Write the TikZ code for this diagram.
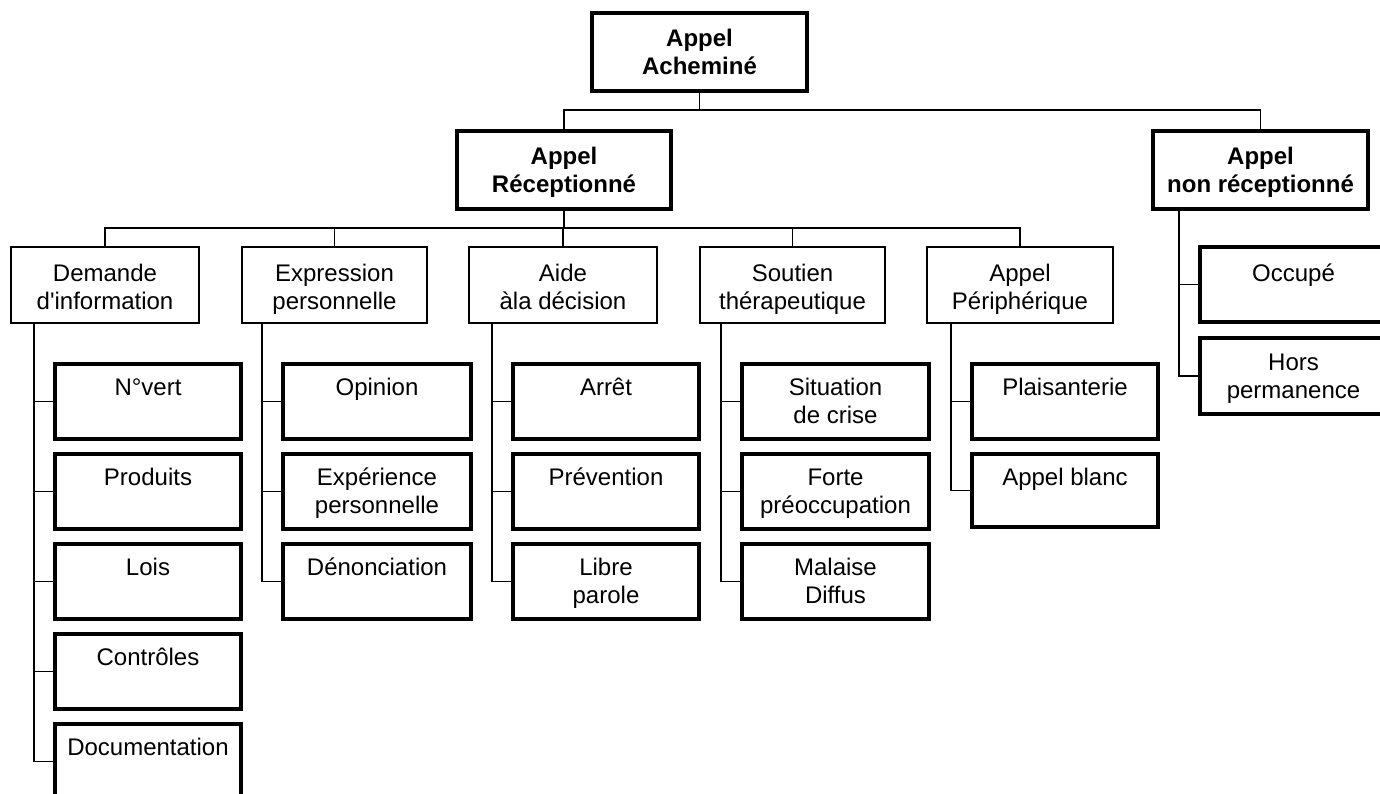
\documentclass[tikz,border=0pt]{standalone}
\usepackage{fontspec}
\setmainfont{Liberation Sans}
\newcommand{\bt}[4]{\parbox[c][#1pt][t]{#2pt}{\centering\rule{0pt}{#3pt}#4\par}}
\begin{document}
\begin{tikzpicture}[x=1pt,y=-1pt,
  basebox/.style={draw, inner sep=0pt, outer sep=0pt, font=\fontsize{24}{28}\selectfont},
  topbox/.style={basebox, line width=3.3pt, font=\fontsize{24}{28}\selectfont\bfseries},
  midbox/.style={basebox, line width=2.3pt},
  leafbox/.style={basebox, line width=3.1pt},
  conn/.style={line width=1.3pt}]
\useasboundingbox (0,0) rectangle (1380,794);
\clip (0,0) rectangle (1380,794);
\fill[white] (0,0) rectangle (1380,794);

% level 0 and 1
\node[topbox] (a0) at (699.5,52) {\bt{78}{215}{34}{Appel\\Acheminé}};
\node[topbox] (a1) at (564,170) {\bt{78}{214}{34}{Appel\\Réceptionné}};
\node[topbox] (a2) at (1260.5,170) {\bt{78}{215}{34}{Appel\\non réceptionné}};

% level 2
\node[midbox] (d) at (105,285) {\bt{76}{188}{34}{Demande\\d\textquotesingle information}};
\node[midbox] (e) at (334.5,285) {\bt{76}{185}{34}{Expression\\personnelle}};
\node[midbox] (ai) at (563,285) {\bt{76}{188}{34}{Aide\\àla décision}};
\node[midbox] (s) at (792.5,285) {\bt{76}{185}{34}{Soutien\\thérapeutique}};
\node[midbox] (p) at (1020,285) {\bt{76}{186}{34}{Appel\\Périphérique}};

% leaves: Demande
\node[leafbox] (d1) at (148,401.5) {\bt{75}{186}{31}{N°vert}};
\node[leafbox] (d2) at (148,491.5) {\bt{75}{186}{31}{Produits}};
\node[leafbox] (d3) at (148,581.5) {\bt{75}{186}{31}{Lois}};
\node[leafbox] (d4) at (148,671.5) {\bt{75}{186}{31}{Contrôles}};
\node[leafbox] (d5) at (148,761.5) {\bt{75}{186}{31}{Documentation}};
% Expression
\node[leafbox] (e1) at (377,401.5) {\bt{75}{188}{31}{Opinion}};
\node[leafbox] (e2) at (377,491.5) {\bt{75}{188}{31}{Expérience\\personnelle}};
\node[leafbox] (e3) at (377,581.5) {\bt{75}{188}{31}{Dénonciation}};
% Aide
\node[leafbox] (ai1) at (606,401.5) {\bt{75}{186}{31}{Arrêt}};
\node[leafbox] (ai2) at (606,491.5) {\bt{75}{186}{31}{Prévention}};
\node[leafbox] (ai3) at (606,581.5) {\bt{75}{186}{31}{Libre\\parole}};
% Soutien
\node[leafbox] (s1) at (835.5,401.5) {\bt{75}{187}{31}{Situation\\de crise}};
\node[leafbox] (s2) at (835.5,491.5) {\bt{75}{187}{31}{Forte\\préoccupation}};
\node[leafbox] (s3) at (835.5,581.5) {\bt{75}{187}{31}{Malaise\\Diffus}};
% Peripherique
\node[leafbox] (p1) at (1065,401.5) {\bt{75}{186}{31}{Plaisanterie}};
\node[leafbox] (p2) at (1065,490.5) {\bt{73}{186}{31}{Appel blanc}};
% non receptionne
\node[leafbox] (n1) at (1293.5,284.5) {\bt{75}{187}{34}{Occupé}};
\node[leafbox] (n2) at (1293.5,376) {\bt{76}{187}{32}{Hors\\permanence}};

% buses
\coordinate (bus0) at (0,110);
\coordinate (bus1) at (0,228);
\draw[conn] (a0.south) -- (a0.south |- bus0);
\draw[conn] (a1.north) |- (bus0 -| a2.north) -- (a2.north);
\draw[conn] (a1.south) -- (a1.south |- bus1);
\draw[conn] (d.north) |- (bus1 -| p.north) -- (p.north);
\draw[conn] (e.north) -- (e.north |- bus1);
\draw[conn] (ai.north) -- (ai.north |- bus1);
\draw[conn] (s.north) -- (s.north |- bus1);

% trunks
\coordinate (td) at ([xshift=-21pt]d1.west |- d.south);
\draw[conn] (td) |- (d5.west);
\foreach \c in {d1,d2,d3,d4} \draw[conn] (td |- \c.west) -- (\c.west);

\coordinate (te) at ([xshift=-21pt]e1.west |- e.south);
\draw[conn] (te) |- (e3.west);
\foreach \c in {e1,e2} \draw[conn] (te |- \c.west) -- (\c.west);

\coordinate (tai) at ([xshift=-21pt]ai1.west |- ai.south);
\draw[conn] (tai) |- (ai3.west);
\foreach \c in {ai1,ai2} \draw[conn] (tai |- \c.west) -- (\c.west);

\coordinate (ts) at ([xshift=-21pt]s1.west |- s.south);
\draw[conn] (ts) |- (s3.west);
\foreach \c in {s1,s2} \draw[conn] (ts |- \c.west) -- (\c.west);

\coordinate (tp) at ([xshift=-21pt]p1.west |- p.south);
\draw[conn] (tp) |- (p2.west);
\draw[conn] (tp |- p1.west) -- (p1.west);

\coordinate (tn) at ([xshift=-21pt]n1.west |- a2.south);
\draw[conn] (tn) |- (n2.west);
\draw[conn] (tn |- n1.west) -- (n1.west);
\end{tikzpicture}
\end{document}
